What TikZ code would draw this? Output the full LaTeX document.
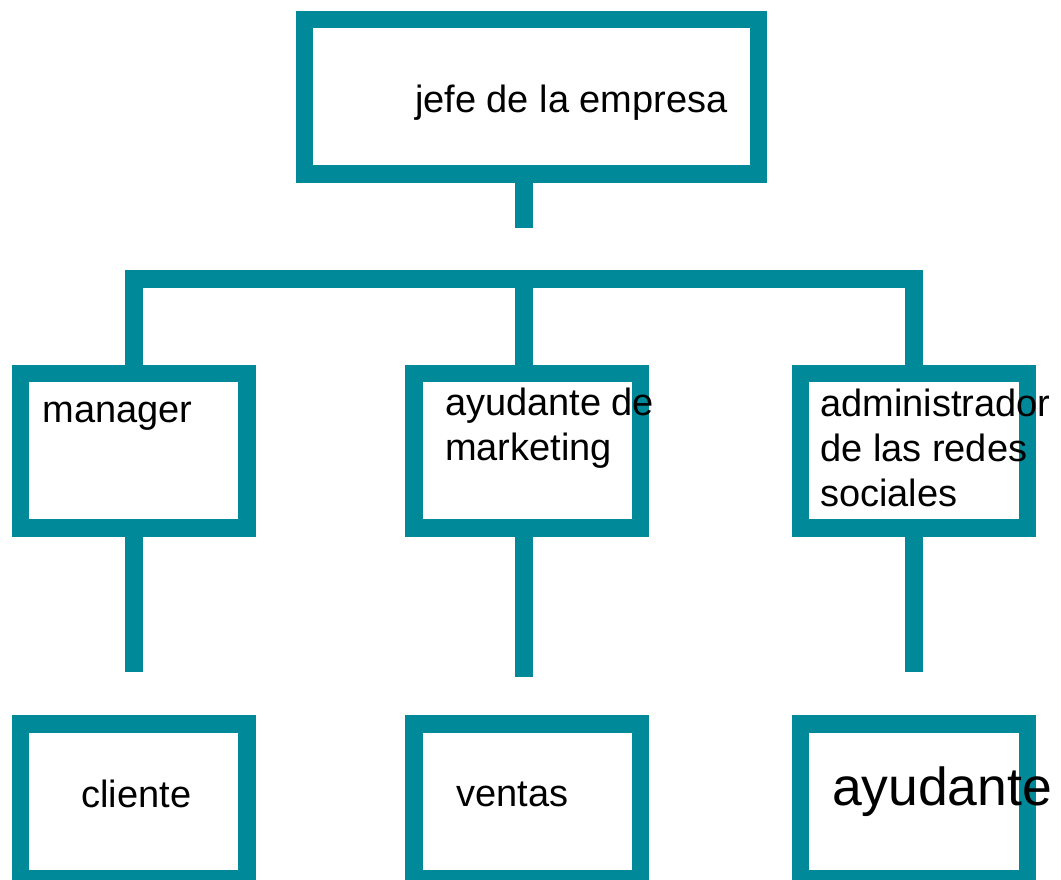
\documentclass[tikz,border=0pt]{standalone}
\usepackage{fontspec}
\setmainfont{Liberation Sans}
\definecolor{teal}{RGB}{0,138,153}
\begin{document}
\begin{tikzpicture}[x=1pt,y=-1pt,
  box/.style={draw=teal,line width=17.5pt,minimum width=226.8pt,minimum height=154.5pt,inner sep=0pt,outer sep=0pt},
  conn/.style={draw=teal,line width=17.5pt},
  lbl/.style={inner sep=0pt,outer sep=0pt,anchor=base west,align=left,font=\fontsize{38}{44.8}\selectfont},
  big/.style={inner sep=0pt,outer sep=0pt,anchor=base west,font=\fontsize{53.5}{60}\selectfont}]
\useasboundingbox (0,0) rectangle (1061,879);
% boxes
\node[box,minimum width=454.2pt,minimum height=154.3pt] (jefe) at (531.6,96.85) {};
\node[box] (mgr) at (133.8,450.55) {};
\node[box] (mkt) at (527.2,450.55) {};
\node[box] (adm) at (914,450.55) {};
\node[box] (cli) at (133.8,801.45) {};
\node[box] (ven) at (527.2,801.45) {};
\node[box] (ayu) at (914,801.45) {};
% coordinates
\coordinate (stemT) at (523.8,227.7);
\coordinate (bar) at (523.8,279);
\coordinate (stemL) at (133.8,671.7);
\coordinate (stemM) at (523.8,677.3);
\coordinate (stemR) at (914,671.7);
% connectors
\draw[conn] (jefe.south -| stemT) -- (stemT);
\draw[conn] (mgr.north) |- (bar) -| (adm.north);
\draw[conn] (bar) -- (mkt.north -| bar);
\draw[conn] (mgr.south -| stemL) -- (stemL);
\draw[conn] (mkt.south -| stemM) -- (stemM);
\draw[conn] (adm.south -| stemR) -- (stemR);
% texts
\node[lbl] (tj) at (415,112.7) {jefe de la empresa};
\node[lbl] (tm) at (42.5,422.3) {manager};
\node[lbl] (tk) at (445,460) {ayudante de\\marketing};
\node[lbl] (ta) at (820.3,506) {administrador\\de las redes\\sociales};
\node[lbl] (tc) at (81.5,807.3) {cliente};
\node[lbl] (tv) at (456.5,806) {ventas};
\node[big] (ty) at (832,805) {ayudante};
\end{tikzpicture}
\end{document}
